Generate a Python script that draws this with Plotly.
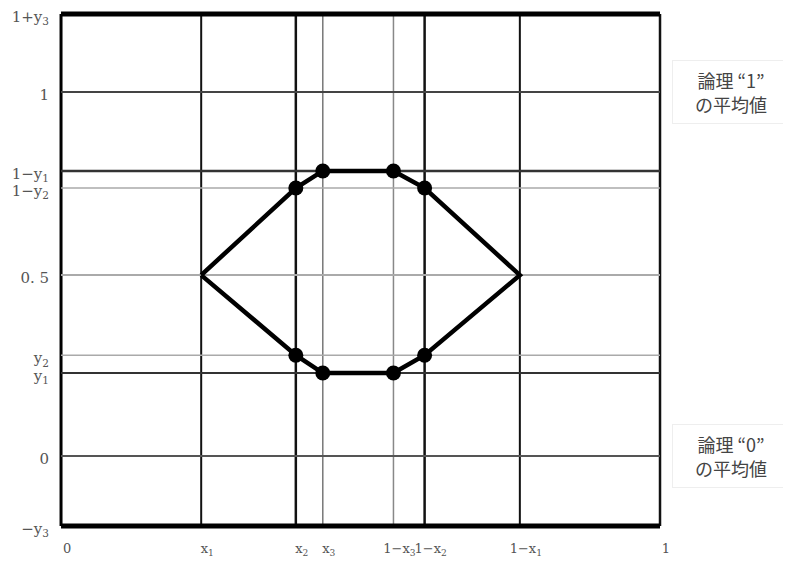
import plotly.graph_objects as go

# grid positions
x_vals = [0, 0.234, 0.392, 0.437, 0.555, 0.607, 0.766, 1]
x_text = ["0", "x<sub>1</sub>", "x<sub>2</sub>", "x<sub>3</sub>",
          "1−x<sub>3</sub>", "1−x<sub>2</sub>", "1−x<sub>1</sub>", "1"]
y_vals = [-0.192, 0, 0.228, 0.277, 0.497, 0.736, 0.783, 1, 1.214]
y_text = ["−y<sub>3</sub>", "0", "y<sub>1</sub>", "y<sub>2</sub>", "0. 5",
          "1−y<sub>2</sub>", "1−y<sub>1</sub>", "1", "1+y<sub>3</sub>"]

# line styles per grid line (width, colour)
x_style = [(3, "#000"), (2, "#111"), (2.5, "#111"), (1.5, "#777"),
           (1.5, "#888"), (2.5, "#111"), (2, "#111"), (2.5, "#111")]
y_style = [(5, "#000"), (2, "#555"), (2, "#333"), (1.5, "#aaa"), (2, "#aaa"),
           (1.5, "#aaa"), (2.5, "#333"), (2, "#444"), (5, "#000")]

# octagon outline
oct_x = [x_vals[1], x_vals[2], x_vals[3], x_vals[4], x_vals[5], x_vals[6],
         x_vals[5], x_vals[4], x_vals[3], x_vals[2], x_vals[1]]
oct_y = [y_vals[4], y_vals[5], y_vals[6], y_vals[6], y_vals[5], y_vals[4],
         y_vals[3], y_vals[2], y_vals[2], y_vals[3], y_vals[4]]

fig = go.Figure()

shapes = []
for xv, (w, c) in zip(x_vals, x_style):
    shapes.append(dict(type="line", x0=xv, x1=xv, y0=y_vals[0], y1=y_vals[-1],
                       line=dict(color=c, width=w), layer="below"))
for yv, (w, c) in zip(y_vals, y_style):
    shapes.append(dict(type="line", x0=0, x1=1, y0=yv, y1=yv,
                       line=dict(color=c, width=w), layer="below"))

fig.add_trace(go.Scatter(x=oct_x, y=oct_y, mode="lines",
                         line=dict(color="black", width=4.5), hoverinfo="skip"))
fig.add_trace(go.Scatter(x=oct_x[1:5] + oct_x[6:10], y=oct_y[1:5] + oct_y[6:10],
                         mode="markers", marker=dict(color="black", size=15),
                         hoverinfo="skip"))

ann_font = dict(family="Noto Sans CJK JP", size=18, color="#444")
annotations = [
    dict(xref="paper", yref="y", x=1.1066, y=1.0, xanchor="center",
         text="論理 “1”<br>の平均値",
         showarrow=False, font=ann_font, align="center", bgcolor="white",
         bordercolor="#eeeeee", borderwidth=1, borderpad=8, width=100, height=46),
    dict(xref="paper", yref="y", x=1.1066, y=0.0, xanchor="center",
         text="論理 “0”<br>の平均値",
         showarrow=False, font=ann_font, align="center", bgcolor="white",
         bordercolor="#eeeeee", borderwidth=1, borderpad=8, width=100, height=46),
]

y_font = dict(family="DejaVu Serif", size=15, color="#555")
x_font = dict(family="DejaVu Serif", size=13, color="#555")

# the page adds an 8px body margin, so the figure is 8px smaller each way
fig.update_layout(
    width=783, height=557,
    margin=dict(l=48, r=125, t=0, b=33),
    paper_bgcolor="white", plot_bgcolor="white",
    showlegend=False,
    shapes=shapes,
    annotations=annotations,
    xaxis=dict(range=[-0.0084, 1.010], tickvals=x_vals, ticktext=x_text,
               showgrid=False, zeroline=False, ticks="", tickfont=x_font,
               tickangle=0, ticklabelshift=6, ticklabelstandoff=7,
               ticklabeloverflow="allow", automargin=False, fixedrange=True),
    yaxis=dict(range=[-0.2085, 1.2305], tickvals=y_vals, ticktext=y_text,
               showgrid=False, zeroline=False, ticks="", tickfont=y_font,
               ticklabelstandoff=6, ticklabelshift=3, ticklabeloverflow="allow",
               automargin=False, fixedrange=True),
)

fig.write_html("out.html")
